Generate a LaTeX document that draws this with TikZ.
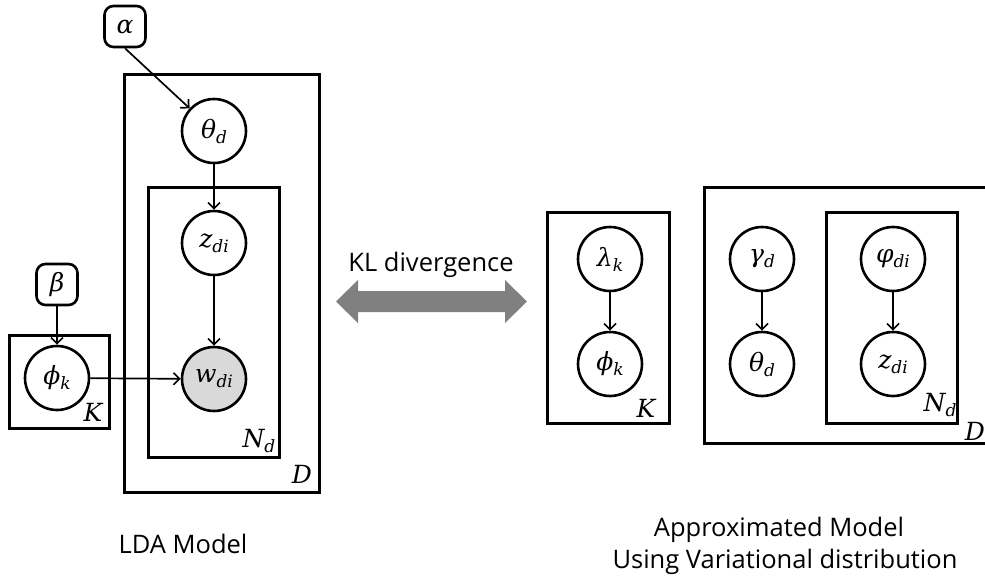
\documentclass[tikz,border=0pt]{standalone}
\usepackage{fontspec}
\setsansfont{Open Sans}
\newfontfamily\symfont{DejaVu Serif}
\usetikzlibrary{arrows.meta}
\definecolor{obsgray}{HTML}{D9D9D9}
\definecolor{klgray}{HTML}{808080}
% italic variable names with a lowered, smaller index
\newcommand\symfs{\symfont\itshape\fontsize{25}{28}\selectfont}
\newcommand\idx[1]{\raisebox{-0.2em}{\fontsize{17}{19}\selectfont #1}}
\newcommand\textfs{\sffamily\fontsize{25.5}{30}\selectfont}
\tikzset{
  plate/.style={draw, line width=3pt},
  var/.style={circle, draw, line width=2.6pt, minimum size=64pt, inner sep=0pt, font=\symfs},
  hyper/.style={rectangle, rounded corners=9pt, draw, line width=2.6pt, minimum size=41pt, inner sep=0pt, font=\symfs},
  edge/.style={-{Straight Barb[length=6pt,width=12pt]}, line width=1.7pt},
  plabel/.style={font=\symfs, inner sep=0pt},
  txt/.style={font=\textfs, inner sep=0pt}
}
\begin{document}
\begin{tikzpicture}[x=1pt,y=-1pt]
\useasboundingbox (0,0) rectangle (985,579);

% ---- LDA model (left) ----
\draw[plate] (124,74) rectangle (319,492);
\draw[plate] (148,187) rectangle (279,457);
\draw[plate] (9,335) rectangle (109,428);

\node[hyper] (alpha) at (125,26.5) {α};
\node[hyper] (beta) at (57,284.5) {β};
\node[var] (theta) at (214,131) {θ\idx{d}};
\node[var] (z) at (214,243) {z\idx{di}};
\node[var, fill=obsgray] (w) at (214,379) {w\idx{di}};
\node[var] (phi) at (57,378) {ϕ\idx{k}};

\node[plabel] (lK) at (93,412.5) {K};
\node[plabel] (lN) at (259,441) {N\idx{d}};
\node[plabel] (lD) at (302,474) {D};

\draw[edge] (alpha.south) -- (theta);
\draw[edge] (theta) -- (z);
\draw[edge] (z) -- (w);
\draw[edge] (beta) -- (phi);
\draw[edge] (phi) -- (w);

% ---- KL divergence block arrow ----
\node[txt, anchor=base] (kltext) at (431,271) {KL divergence};
\fill[klgray] (336,301.5) -- (358,280) -- (358,291) -- (505,291) -- (505,280)
  -- (527,301.5) -- (505,323) -- (505,312) -- (358,312) -- (358,323) -- cycle;

% ---- Variational model (right) ----
\draw[plate] (547,212) rectangle (669,423);
\draw[plate] (704,187) rectangle (1000,443);
\draw[plate] (826,212) rectangle (957,423);

\node[var] (lambda) at (610,259) {λ\idx{k}};
\node[var] (phiv) at (610,364) {ϕ\idx{k}};
\node[var] (gamma) at (762,259) {γ\idx{d}};
\node[var] (thetav) at (762,364) {θ\idx{d}};
\node[var] (vphi) at (893,259) {φ\idx{di}};
\node[var] (zv) at (893,364) {z\idx{di}};

\node[plabel] (rK) at (646,408) {K};
\node[plabel] (rN) at (940,405) {N\idx{d}};
\node[plabel] (rD) at (975,431) {D};

\draw[edge] (lambda) -- (phiv);
\draw[edge] (gamma) -- (thetav);
\draw[edge] (vphi) -- (zv);

% ---- captions ----
\node[txt, anchor=base] (cap1) at (183,553) {LDA Model};
\node[txt, anchor=base] (cap2a) at (779,536) {Approximated Model};
\node[txt, anchor=base] (cap2b) at (785,568) {Using Variational distribution};
\end{tikzpicture}
\end{document}
